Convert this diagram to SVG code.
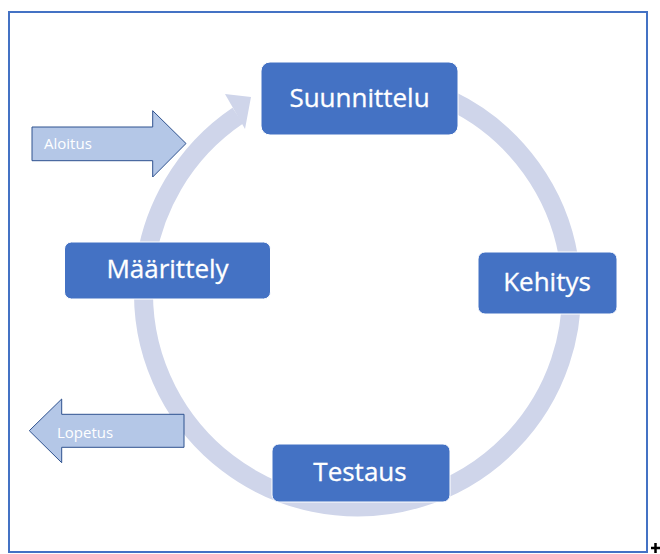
<svg xmlns="http://www.w3.org/2000/svg" width="660" height="554" viewBox="0 0 660 554">
  <style>
    .frame { fill: #FFFFFF; stroke: #4472C4; stroke-width: 2; }
    .ring { fill: none; stroke: #CFD5EA; stroke-width: 19; stroke-linecap: butt; }
    .ringhead { fill: #CFD5EA; stroke: none; }
    .box { fill: #4472C4; stroke: #FFFFFF; stroke-width: 1; }
    .label { font-family: "Open Sans", "Noto Sans", "Liberation Sans", sans-serif; font-size: 26px; fill: #FFFFFF; stroke: #FFFFFF; stroke-width: 0.3; text-anchor: middle; }
    .blockarrow { fill: #B4C7E7; stroke: #2F528F; stroke-width: 1; }
    .small { font-family: "Open Sans", "Noto Sans", "Liberation Sans", sans-serif; font-size: 15px; fill: #FFFFFF; }
    .mark { stroke: #000000; stroke-width: 2.5; fill: none; }
  </style>
  <rect class="frame" x="9" y="12" width="638" height="540"/>
  <g id="connectors">
    <path class="ring" d="M 357.5 79 A 214 214 0 1 1 237.8 115.6"/>
    <polygon class="ringhead" points="225,94 251,97 245,129"/>
  </g>
  <g id="aloitus">
    <path class="blockarrow" d="M 32 127 H 152.7 V 110.7 L 186 143.5 L 152.7 177 V 160.7 H 32 Z"/>
    <text class="small" x="44" y="149">Aloitus</text>
  </g>
  <g id="lopetus">
    <path class="blockarrow" d="M 184 414.3 H 61.7 V 399 L 29.3 430.7 L 61.7 462.7 V 447.3 H 184 Z"/>
    <text class="small" x="57" y="438">Lopetus</text>
  </g>
  <g id="suunnittelu">
    <rect class="box" x="261" y="62" width="197" height="73" rx="9"/>
    <text class="label" x="359.5" y="107">Suunnittelu</text>
  </g>
  <g id="kehitys">
    <rect class="box" x="478" y="252" width="139" height="62" rx="7"/>
    <text class="label" x="547" y="291">Kehitys</text>
  </g>
  <g id="testaus">
    <rect class="box" x="272" y="444" width="178" height="58" rx="7"/>
    <text class="label" x="360" y="481">Testaus</text>
  </g>
  <g id="maarittely">
    <rect class="box" x="64.5" y="242" width="206" height="57" rx="7"/>
    <text class="label" x="167.5" y="277.5">Määrittely</text>
  </g>
  <path class="mark" d="M 651 548 H 660 M 655.5 543 V 553"/>
</svg>
